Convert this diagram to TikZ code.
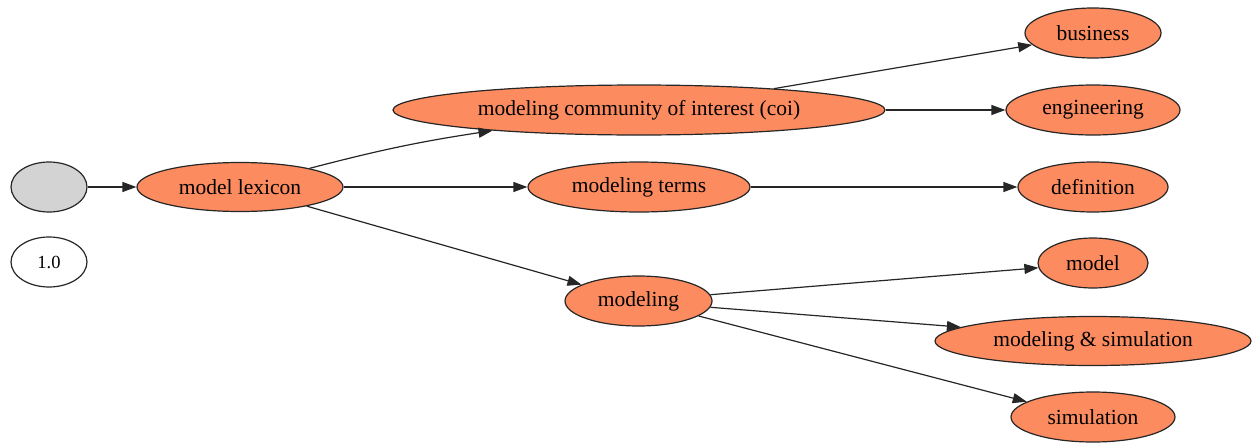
\documentclass[tikz,border=0pt]{standalone}
\usepackage{fontspec}
\setmainfont{Liberation Serif}
\usetikzlibrary{shapes.geometric,arrows.meta}
\definecolor{nodeorange}{HTML}{FC8C60}
\definecolor{nodegray}{HTML}{D3D3D3}
\begin{document}
\begin{tikzpicture}[x=1pt,y=-1pt,
  ell/.style={ellipse,draw=black!85,line width=1.2pt,inner sep=0pt,
    font=\fontsize{21.5}{24}\selectfont},
  onode/.style={ell,fill=nodeorange},
  edge/.style={line width=1.2pt,draw=black!85,-{Triangle[length=14pt,width=10pt]}}]
\useasboundingbox (0,0) rectangle (1253,442);
\node[ell,fill=nodegray,minimum width=76pt,minimum height=50pt] (root) at (49,187) {};
\node[ell,fill=white,minimum width=76pt,minimum height=50pt,font=\fontsize{18.5}{21}\selectfont] (ver) at (49,262) {1.0};
\node[onode,minimum width=206pt,minimum height=49pt] (lex) at (240,187) {model lexicon};
\node[onode,minimum width=492pt,minimum height=50pt] (coi) at (639,110) {modeling community of interest (coi)};
\node[onode,minimum width=222pt,minimum height=50pt] (terms) at (639,187) {modeling terms};
\node[onode,minimum width=147pt,minimum height=50pt] (mod) at (638.5,301) {modeling};
\node[onode,minimum width=136pt,minimum height=50pt] (bus) at (1093,33) {business};
\node[onode,minimum width=174pt,minimum height=50pt] (eng) at (1093,110) {engineering};
\node[onode,minimum width=150pt,minimum height=50pt] (def) at (1093,187) {definition};
\node[onode,minimum width=110pt,minimum height=50pt] (model) at (1093,263) {model};
\node[onode,minimum width=316pt,minimum height=49pt] (ms) at (1093,341) {modeling \& simulation};
\node[onode,minimum width=164pt,minimum height=50pt] (sim) at (1093,417) {simulation};
\draw[edge] (root) -- (lex);
\draw[edge] (lex.15) to[bend left=3] (coi.188);
\draw[edge] (lex) -- (terms);
\draw[edge] (lex.-16) -- (mod.164);
\draw[edge] (coi.9.5) -- (bus.191);
\draw[edge] (coi) -- (eng);
\draw[edge] (terms) -- (def);
\draw[edge] (mod.5.4) -- (model.185);
\draw[edge] (mod.-5.4) -- (ms.174.7);
\draw[edge] (mod.-14.6) -- (sim.167);
\end{tikzpicture}
\end{document}
